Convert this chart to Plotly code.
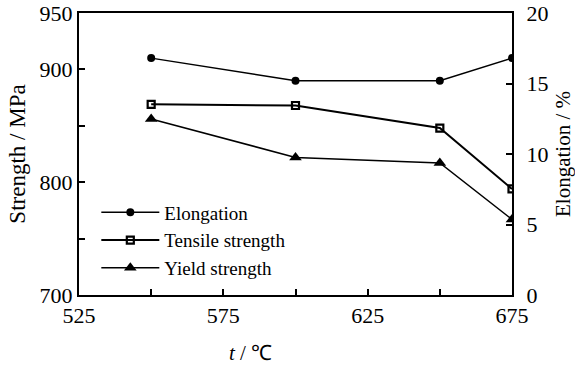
import plotly.graph_objects as go

# Temperature (°C)
temperature = [550, 600, 650, 675]
# Elongation (%), right axis
elongation = [16.8, 15.2, 15.2, 16.8]
# Strength (MPa), left axis
tensile_strength = [869, 868, 848, 794]
yield_strength = [856, 822, 817, 767]

x_ticks = [525, 550, 575, 600, 625, 650, 675]
x_ticklabels = ["525", "", "575", "", "625", "", "675"]
y_ticks = [700, 750, 800, 850, 900, 950]
y_ticklabels = ["700", "", "800", "", "900", "950"]
y2_ticks = [0, 5, 10, 15, 20]
y2_ticklabels = ["0", "5", "10", "15", "20"]

FONT = "Liberation Serif"

fig = go.Figure()

fig.add_trace(go.Scatter(
    x=temperature, y=elongation, name="Elongation", yaxis="y2",
    mode="lines+markers",
    line=dict(color="black", width=1.5),
    marker=dict(symbol="circle", size=8, color="black"),
))
fig.add_trace(go.Scatter(
    x=temperature, y=tensile_strength, name="Tensile strength",
    mode="lines+markers",
    line=dict(color="black", width=2),
    marker=dict(symbol="square-open", size=7, color="black",
                line=dict(width=2.2, color="black")),
))
fig.add_trace(go.Scatter(
    x=temperature, y=yield_strength, name="Yield strength",
    mode="lines+markers",
    line=dict(color="black", width=1.5),
    marker=dict(symbol="triangle-up", size=11, color="black"),
))

axis_common = dict(
    showgrid=False, zeroline=False, showline=True, linecolor="black",
    linewidth=2, ticks="inside", ticklen=6, tickwidth=2, tickcolor="black",
    tickfont=dict(family=FONT, size=22, color="black"), automargin=False,
)

fig.update_layout(
    width=575, height=371,
    margin=dict(l=79, r=63, t=13, b=76),
    paper_bgcolor="white", plot_bgcolor="white",
    font=dict(family=FONT, color="black"),
    xaxis=dict(
        range=[525, 675], tickvals=x_ticks, ticktext=x_ticklabels,
        mirror=True, **axis_common,
    ),
    yaxis=dict(
        range=[700, 950], tickvals=y_ticks, ticktext=y_ticklabels,
        title=dict(text="Strength / MPa", font=dict(family=FONT, size=23, color="black"),
                   standoff=8),
        **axis_common,
    ),
    yaxis2=dict(
        range=[0, 20], tickvals=y2_ticks, ticktext=y2_ticklabels,
        overlaying="y", side="right", ticklabelstandoff=8,
        title=dict(text="Elongation / %", font=dict(family=FONT, size=21, color="black"),
                   standoff=8),
        **axis_common,
    ),
    legend=dict(
        x=0.04, y=0.36, xanchor="left", yanchor="top",
        bgcolor="rgba(0,0,0,0)", itemwidth=58, tracegroupgap=0,
        font=dict(family=FONT, size=19, color="black"),
    ),
    showlegend=True,
)

fig.add_annotation(
    text="<i>t</i> / ℃", xref="paper", yref="paper",
    x=0.395, y=-0.205, xanchor="center", yanchor="middle",
    showarrow=False, font=dict(family=FONT, size=21, color="black"),
)

fig.write_html("out.html")
